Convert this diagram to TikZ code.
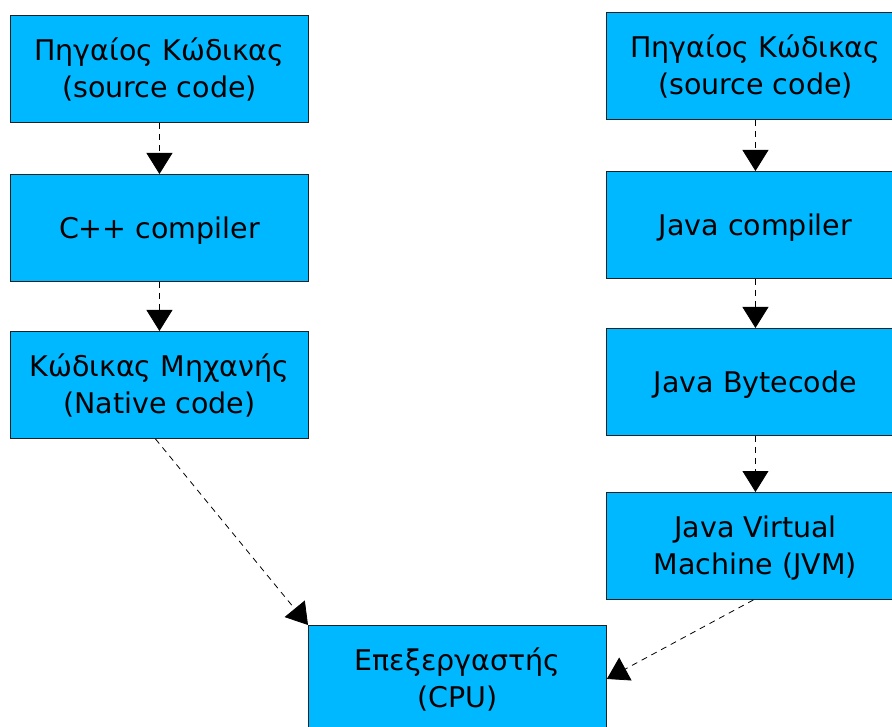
\documentclass[tikz,border=0pt]{standalone}
\usepackage{fontspec}
\setmainfont{DejaVu Sans}
\usetikzlibrary{arrows.meta}
\definecolor{boxfill}{HTML}{00B8FF}
\definecolor{boxline}{HTML}{222222}
\newcommand\bxtxt[1]{\raisebox{-3pt}[\height][\depth]{\begin{tabular}{@{}c@{}}#1\end{tabular}}}
\begin{document}
\begin{tikzpicture}[x=1pt,y=-1pt,
  box/.style={draw=boxline, line width=0.9pt, fill=boxfill,
    minimum width=298pt, minimum height=107pt, inner sep=0pt,
    font=\fontsize{28.5}{37}\selectfont, anchor=north west},
  flow/.style={draw=black, line width=0.8pt, dash pattern=on 6pt off 5pt,
    -{Triangle[width=26pt,length=21pt]}}]
\useasboundingbox (0,0) rectangle (892,727);
% left column
\node[box] (L1) at (10,15) {\bxtxt{Πηγαίος Κώδικας\\(source code)}};
\node[box] (L2) at (10,174) {\bxtxt{C++ compiler}};
\node[box] (L3) at (10,331) {\bxtxt{Κώδικας Μηχανής\\(Native code)}};
% right column
\node[box] (R1) at (606,12) {\bxtxt{Πηγαίος Κώδικας\\(source code)}};
\node[box] (R2) at (606,171) {\bxtxt{Java compiler}};
\node[box] (R3) at (606,328) {\bxtxt{Java Bytecode}};
\node[box] (R4) at (606,492) {\bxtxt{Java Virtual\\Machine (JVM)}};
% CPU
\node[box] (CPU) at (308,625) {\bxtxt{Επεξεργαστής\\(CPU)}};
% connectors
\draw[flow] (L1.south) -- (L2.north);
\draw[flow] (L2.south) -- (L3.north);
\draw[flow] ([xshift=-4pt]L3.south) -- (CPU.north west);
\draw[flow] (R1.south) -- (R2.north);
\draw[flow] (R2.south) -- (R3.north);
\draw[flow] (R3.south) -- (R4.north);
\draw[flow] ([xshift=-2pt]R4.south) -- (CPU.east);
\end{tikzpicture}
\end{document}
